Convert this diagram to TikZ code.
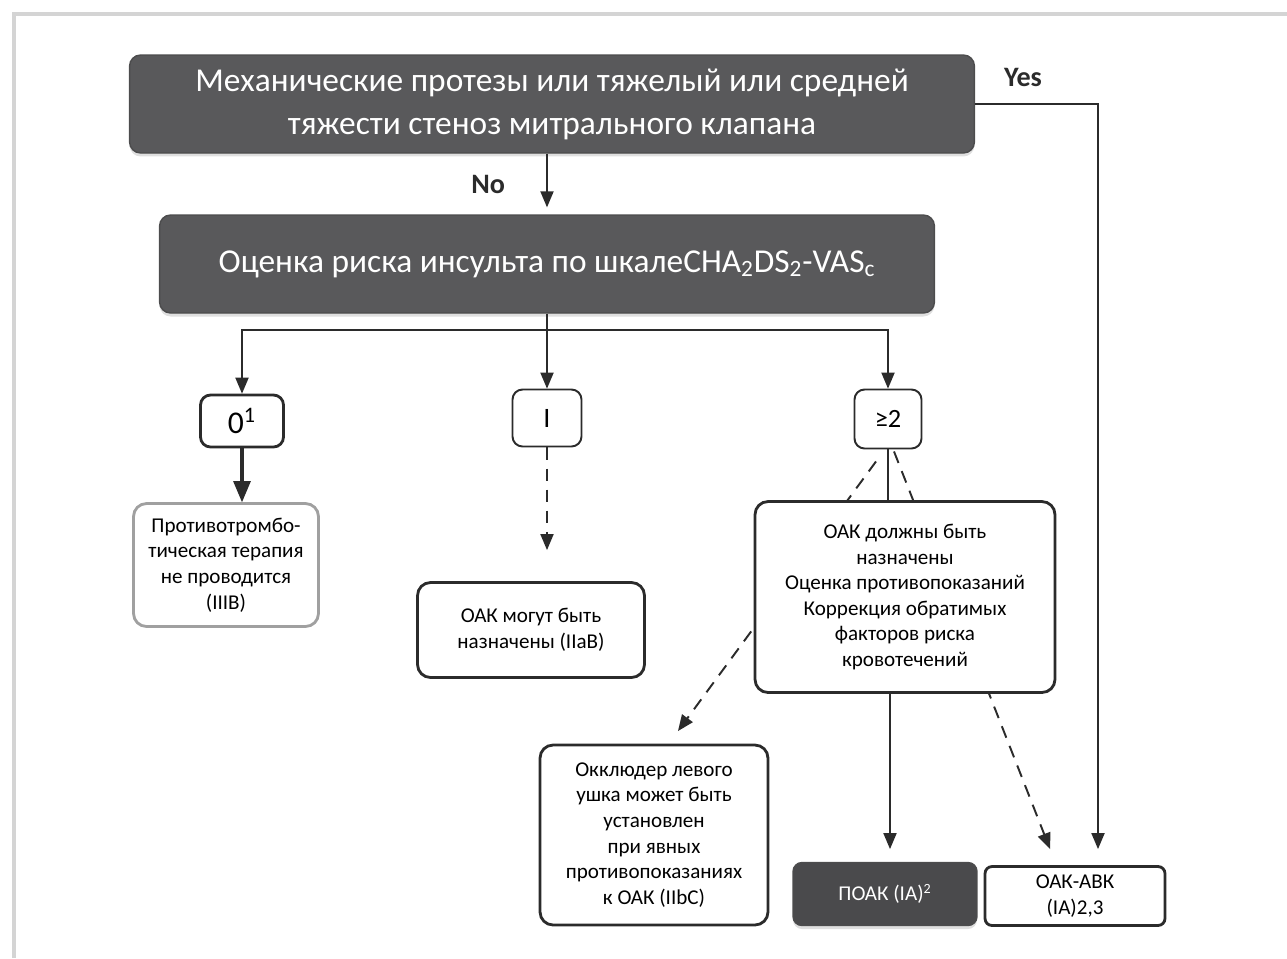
\documentclass[tikz,border=0pt]{standalone}
\usepackage{fontspec}
\setmainfont{Carlito}
\usetikzlibrary{arrows}
\usetikzlibrary{calc}
\usetikzlibrary{shadows}
\usepackage{xcolor}
\definecolor{boxdark}{HTML}{59595B}
\definecolor{boxdarker}{HTML}{4A4A4C}
\definecolor{lineblack}{HTML}{2B2B2B}
\definecolor{framegray}{HTML}{D4D4D4}
\definecolor{softgray}{HTML}{A0A0A0}

\begin{document}
\begin{tikzpicture}[x=0.02cm, y=-0.02cm, >=triangle 45,
    darkbox/.style={draw=boxdark!85!black, fill=boxdark, text=white, rounded corners=0.22cm,
        line width=0.8pt, align=center, inner sep=0pt,
        drop shadow={shadow xshift=0pt, shadow yshift=-0.07cm, opacity=0.25}},
    whitebox/.style={draw=lineblack, fill=white, line width=1.6pt, rounded corners=0.26cm,
        align=center, inner sep=0pt, font=\fontsize{12}{14.6}\selectfont},
    link/.style={lineblack, line width=1.1pt},
    dashlink/.style={link, dash pattern=on 7pt off 5pt},
    ]
        \useasboundingbox (0,0) rectangle (1287,958);
        \draw[framegray, line width=0.08cm] (14,958) -- (14,14) -- (1287,14);

        % free ends of the arrows
        \coordinate (split) at (547,330);
        \coordinate (mayin) at (547,550);
        \coordinate (occlin) at (678,731);
        \coordinate (doacin) at (890,849);
        \coordinate (vkain) at (1050,849);
        \coordinate (yesin) at (1098,849);

        \node[darkbox, minimum width=16.9cm, minimum height=1.96cm, font=\fontsize{19}{24.5}\selectfont]
            (mech) at (552,104) {Механические протезы или тяжелый или средней\\тяжести стеноз митрального клапана};
        \node[darkbox, minimum width=15.5cm, minimum height=1.96cm, font=\fontsize{19}{24}\selectfont]
            (score) at (547,264) {Оценка риска инсульта по шкалеCHA\textsubscript{2}DS\textsubscript{2}-VAS\textsubscript{c}};

        \node[whitebox, minimum width=1.66cm, minimum height=1.04cm, rounded corners=0.2cm, font=\fontsize{18}{20}\selectfont]
            (zero) at (242,421) {0\textsuperscript{1}};
        \node[whitebox, minimum width=1.38cm, minimum height=1.14cm, rounded corners=0.2cm, line width=1.1pt, font=\fontsize{16}{18}\selectfont]
            (one) at (547,418) {I};
        \node[whitebox, minimum width=1.34cm, minimum height=1.18cm, rounded corners=0.2cm, line width=1.1pt, font=\fontsize{15}{18}\selectfont]
            (two) at (888,419) {≥2};

        \node[whitebox, draw=softgray, minimum width=3.7cm, minimum height=2.46cm]
            (none) at (226,565) {Противотромбо-\\тическая терапия\\не проводится\\(IIIB)};
        \node[whitebox, minimum width=4.54cm, minimum height=1.9cm]
            (may) at (531,630) {ОАК могут быть\\назначены (IIaB)};
        \node[whitebox, minimum width=4.56cm, minimum height=3.6cm]
            (occl) at (654,835) {Окклюдер левого\\ушка может быть\\установлен\\при явных\\противопоказаниях\\к ОАК (IIbC)};
        \node[darkbox, fill=boxdarker, minimum width=3.68cm, minimum height=1.26cm, rounded corners=0.18cm,
            font=\fontsize{12}{14.6}\selectfont]
            (doac) at (885,894) {ПОАК (IA)\textsuperscript{2}};
        \node[whitebox, minimum width=3.6cm, minimum height=1.18cm, rounded corners=0.14cm]
            (vka) at (1075,896) {ОАК-АВК\\(IA)2,3};

        % dashed ways out of >=2 pass behind the big box
        \draw[dashlink, ->] ($(two.south)+(-12,12)$) -- (occlin);
        \draw[dashlink, ->] ($(two.south)+(6,2)$) -- (vkain);

        \node[whitebox, minimum width=6cm, minimum height=3.82cm]
            (must) at (905,597) {ОАК должны быть\\назначены\\Оценка противопоказаний\\Коррекция обратимых\\факторов риска\\кровотечений};

        \draw[link, ->, shorten >=4pt] (score.north |- mech.south) -- (score.north) node[midway, left=20pt, font=\fontsize{16}{18}\selectfont\bfseries, text=lineblack] {No};
        \draw[link, ->] (mech.east) -| (yesin);
        \node[font=\fontsize{16}{18}\selectfont\bfseries, text=lineblack] (yes) at (1023,77) {Yes};

        \draw[link, ->] (score.south) -- (one.north);
        \draw[link, ->] (split) -| (zero.north);
        \draw[link, ->] (split) -| (two.north);

        \draw[link, line width=1.8pt, ->] (zero.south) -- (zero.south |- none.north);
        \draw[dashlink, ->] (one.south) -- (mayin);
        \draw[link] (two.south) -- (two.south |- must.north);
        \draw[link, ->] (must.south -| doacin) -- (doacin);
\end{tikzpicture}
\end{document}
